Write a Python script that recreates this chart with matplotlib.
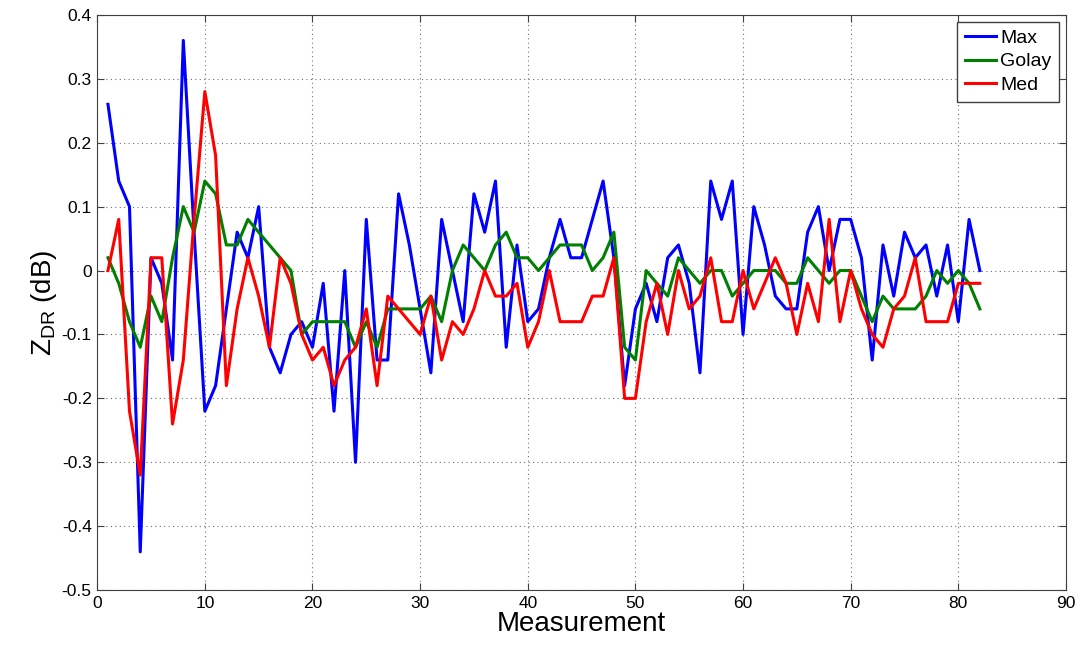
import numpy as np
import matplotlib
matplotlib.use('Agg')
from matplotlib import pyplot as plt

plt.rcParams['font.family'] = ['Liberation Sans', 'DejaVu Sans']

# measurement index 1..82
meas = np.arange(1, 83)

zdr_max = [0.26, 0.14, 0.10, -0.44, 0.02, -0.02, -0.14, 0.36, 0.06, -0.22,
           -0.18, -0.06, 0.06, 0.02, 0.10, -0.12, -0.16, -0.10, -0.08, -0.12,
           -0.02, -0.22, 0.00, -0.30, 0.08, -0.14, -0.14, 0.12, 0.04, -0.06,
           -0.16, 0.08, 0.00, -0.08, 0.12, 0.06, 0.14, -0.12, 0.04, -0.08,
           -0.06, 0.02, 0.08, 0.02, 0.02, 0.08, 0.14, 0.02, -0.18, -0.06,
           -0.02, -0.08, 0.02, 0.04, -0.02, -0.16, 0.14, 0.08, 0.14, -0.10,
           0.10, 0.04, -0.04, -0.06, -0.06, 0.06, 0.10, 0.00, 0.08, 0.08,
           0.02, -0.14, 0.04, -0.04, 0.06, 0.02, 0.04, -0.04, 0.04, -0.08,
           0.08, 0.00]

zdr_golay = [0.02, -0.02, -0.08, -0.12, -0.04, -0.08, 0.02, 0.10, 0.06, 0.14,
             0.12, 0.04, 0.04, 0.08, 0.06, 0.04, 0.02, 0.00, -0.10, -0.08,
             -0.08, -0.08, -0.08, -0.12, -0.08, -0.12, -0.06, -0.06, -0.06, -0.06,
             -0.04, -0.08, 0.00, 0.04, 0.02, 0.00, 0.04, 0.06, 0.02, 0.02,
             0.00, 0.02, 0.04, 0.04, 0.04, 0.00, 0.02, 0.06, -0.12, -0.14,
             0.00, -0.02, -0.04, 0.02, 0.00, -0.02, 0.00, 0.00, -0.04, -0.02,
             0.00, 0.00, 0.00, -0.02, -0.02, 0.02, 0.00, -0.02, 0.00, 0.00,
             -0.04, -0.08, -0.04, -0.06, -0.06, -0.06, -0.04, 0.00, -0.02, 0.00,
             -0.02, -0.06]

zdr_med = [0.00, 0.08, -0.22, -0.32, 0.02, 0.02, -0.24, -0.14, 0.08, 0.28,
           0.18, -0.18, -0.06, 0.02, -0.04, -0.12, 0.02, -0.02, -0.10, -0.14,
           -0.12, -0.18, -0.14, -0.12, -0.06, -0.18, -0.04, -0.06, -0.08, -0.10,
           -0.04, -0.14, -0.08, -0.10, -0.06, 0.00, -0.04, -0.04, -0.02, -0.12,
           -0.08, 0.00, -0.08, -0.08, -0.08, -0.04, -0.04, 0.02, -0.20, -0.20,
           -0.08, -0.02, -0.10, 0.00, -0.06, -0.04, 0.02, -0.08, -0.08, 0.00,
           -0.06, -0.02, 0.02, -0.02, -0.10, -0.02, -0.08, 0.08, -0.08, 0.00,
           -0.06, -0.10, -0.12, -0.06, -0.04, 0.02, -0.08, -0.08, -0.08, -0.02,
           -0.02, -0.02]

xticks = np.arange(0, 91, 10)
yticks = [-0.5, -0.4, -0.3, -0.2, -0.1, 0, 0.1, 0.2, 0.3, 0.4]
ytick_labels = ['-0.5', '-0.4', '-0.3', '-0.2', '-0.1', '0', '0.1', '0.2', '0.3', '0.4']

fig = plt.figure(figsize=(10.8, 6.45), dpi=100)
ax = fig.add_axes([0.090, 0.085, 0.897, 0.892])

ax.plot(meas, zdr_max, color=(0, 0, 1), lw=2.2, label='Max')
ax.plot(meas, zdr_golay, color=(0, 0.5, 0), lw=2.2, label='Golay')
ax.plot(meas, zdr_med, color=(1, 0, 0), lw=2.2, label='Med')

ax.set_xlim(0, 90)
ax.set_ylim(-0.5, 0.4)
ax.set_xticks(xticks)
ax.set_yticks(yticks)
ax.set_yticklabels(ytick_labels)
ax.tick_params(direction='in', top=True, right=True, labelsize=12.5, length=5,
               color='#404040', pad=4)
ax.grid(True, linestyle=(0, (1, 3)), color='#707070', linewidth=0.8)
for s in ax.spines.values():
    s.set_color('#404040')

ax.set_xlabel('Measurement', fontsize=20, labelpad=0)
ax.set_ylabel(r'$\mathregular{Z_{DR}}$ (dB)', fontsize=20, labelpad=2)

leg = ax.legend(loc='upper right', fontsize=14, fancybox=False, framealpha=1,
                edgecolor='#404040', handlelength=1.6, borderaxespad=0.35,
                labelspacing=0.3, handletextpad=0.2, borderpad=0.4)
leg.get_frame().set_linewidth(1.0)

plt.savefig('out.png', dpi=100)
